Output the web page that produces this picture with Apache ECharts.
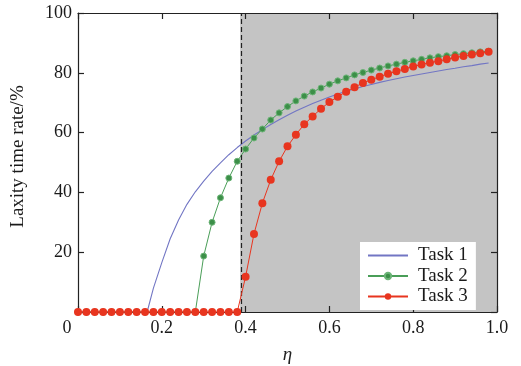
<!DOCTYPE html>
<html>
<head>
    <meta charset="UTF-8">
    <title>Laxity time rate</title>
    <script type="text/javascript" src="https://cdn.jsdelivr.net/npm/echarts@6/dist/echarts.min.js"></script>
</head>
<body style="margin:0;background:#fff;">
    <div id="chart" style="width:521px;height:366px;"></div>
    <script>
        // eta values, one point every 0.02
        var eta = [0, 0.02, 0.04, 0.06, 0.08, 0.10, 0.12, 0.14, 0.16, 0.18,
                   0.20, 0.22, 0.24, 0.26, 0.28, 0.30, 0.32, 0.34, 0.36, 0.38,
                   0.40, 0.42, 0.44, 0.46, 0.48, 0.50, 0.52, 0.54, 0.56, 0.58,
                   0.60, 0.62, 0.64, 0.66, 0.68, 0.70, 0.72, 0.74, 0.76, 0.78,
                   0.80, 0.82, 0.84, 0.86, 0.88, 0.90, 0.92, 0.94, 0.96, 0.98];

        // Task 1 is a plain line, starts rising at ~0.165
        var task1Eta = [0, 0.165, 0.18, 0.20, 0.22, 0.24, 0.26, 0.28, 0.30, 0.32,
                        0.34, 0.36, 0.38, 0.40, 0.42, 0.44, 0.46, 0.48, 0.50, 0.52,
                        0.54, 0.56, 0.58, 0.60, 0.62, 0.64, 0.66, 0.68, 0.70, 0.72,
                        0.74, 0.76, 0.78, 0.80, 0.82, 0.84, 0.86, 0.88, 0.90, 0.92,
                        0.94, 0.96, 0.98];
        var task1 = [0, 0, 8.0, 16.5, 24.5, 30.8, 36.0, 40.2, 43.8, 47.0,
                     49.9, 52.6, 55.0, 57.2, 59.2, 61.0, 62.7, 64.3, 65.8, 67.2,
                     68.5, 69.7, 70.8, 71.9, 72.9, 73.8, 74.6, 75.4, 76.1, 76.8,
                     77.4, 78.0, 78.6, 79.1, 79.6, 80.1, 80.6, 81.1, 81.5, 82.0,
                     82.4, 82.9, 83.3];

        var task2 = [0, 0, 0, 0, 0, 0, 0, 0, 0, 0,
                     0, 0, 0, 0, 0, 18.7, 30.0, 38.2, 44.8, 50.4,
                     54.5, 58.2, 61.2, 64.2, 66.6, 68.7, 70.6, 72.2, 73.6, 74.9,
                     76.2, 77.3, 78.3, 79.3, 80.1, 80.9, 81.6, 82.3, 82.9, 83.5,
                     84.0, 84.5, 85.0, 85.4, 85.7, 86.1, 86.4, 86.7, 87.0, 87.2];

        var task3 = [0, 0, 0, 0, 0, 0, 0, 0, 0, 0,
                     0, 0, 0, 0, 0, 0, 0, 0, 0, 0,
                     11.8, 26.1, 36.4, 44.2, 50.4, 55.4, 59.3, 62.8, 65.4, 68.0,
                     70.2, 72.0, 73.7, 75.2, 76.6, 77.7, 78.7, 79.7, 80.5, 81.3,
                     82.1, 82.8, 83.4, 83.9, 84.5, 85.1, 85.6, 86.1, 86.5, 87.0];

        var seriesNames = ['Task 1', 'Task 2', 'Task 3'];
        var threshold = 0.387;   // dashed line, shaded to the right
        var xTicks = {min: 0, max: 1, interval: 0.2};
        var yTicks = {min: 0, max: 100, interval: 20};

        function pairs(xs, ys) {
            return xs.map(function (x, i) { return [x, ys[i]]; });
        }

        var font = 'Liberation Serif';
        function frame() {
            return {show: true, onZero: false, lineStyle: {color: '#222', width: 1.2}};
        }
        function ticks() {
            return {show: true, inside: true, length: 6, lineStyle: {color: '#222', width: 1.2}};
        }
        var chart = echarts.init(document.getElementById('chart'), null, {renderer: 'canvas'});

        var option = {
            animation: false,
            grid: {left: 78, right: 24, top: 13, bottom: 54, containLabel: false, outerBoundsMode: 'none'},
            legend: {
                data: [{name: seriesNames[0], itemStyle: {opacity: 0}}, seriesNames[1], seriesNames[2]],
                orient: 'vertical',
                left: 360,
                top: 242,
                padding: [4, 8, 4, 7],
                itemGap: 1.5,
                itemWidth: 40,
                itemHeight: 8,
                backgroundColor: '#ffffff',
                textStyle: {fontFamily: font, fontSize: 19, lineHeight: 18, color: '#1a1a1a', padding: [0, 0, 0, 5]}
            },
            xAxis: [{
                type: 'value',
                z: 2,
                min: xTicks.min, max: xTicks.max, interval: xTicks.interval,
                name: 'η',
                nameLocation: 'middle',
                nameGap: 33,
                nameTextStyle: {fontFamily: font, fontSize: 19, fontStyle: 'italic', color: '#222'},
                axisLine: frame(),
                axisTick: ticks(),
                splitLine: {show: false},
                axisLabel: {
                    fontFamily: font, fontSize: 18, color: '#1a1a1a', margin: 7,
                    formatter: function (v) {
                        if (v === 0) return '{z|0}';
                        return v.toFixed(1);
                    },
                    rich: {z: {fontFamily: font, fontSize: 18, color: '#1a1a1a', padding: [0, 22, 0, 0]}}
                }
            }, {
                type: 'value', position: 'top',
                z: 2,
                min: xTicks.min, max: xTicks.max, interval: xTicks.interval,
                axisLine: frame(),
                axisTick: ticks(),
                axisLabel: {show: false},
                splitLine: {show: false}
            }],
            yAxis: [{
                type: 'value',
                z: 2,
                min: yTicks.min, max: yTicks.max, interval: yTicks.interval,
                name: 'Laxity time rate/%',
                nameLocation: 'middle',
                nameGap: 50,
                nameTextStyle: {fontFamily: font, fontSize: 19, color: '#1a1a1a', padding: [0, 0, 0, 12]},
                axisLine: frame(),
                axisTick: ticks(),
                splitLine: {show: false},
                axisLabel: {
                    fontFamily: font, fontSize: 18, color: '#1a1a1a', margin: 6,
                    formatter: function (v) { return v === 0 ? '' : String(v); }
                }
            }, {
                type: 'value', position: 'right',
                z: 2,
                min: yTicks.min, max: yTicks.max, interval: yTicks.interval,
                axisLine: frame(),
                axisTick: ticks(),
                axisLabel: {show: false},
                splitLine: {show: false}
            }],
            series: [
                {
                    // shaded region and dashed divider
                    name: 'region',
                    type: 'line',
                    data: [],
                    z: 1,
                    silent: true,
                    markArea: {
                        silent: true,
                        itemStyle: {color: '#c4c4c4', opacity: 1},
                        data: [[{xAxis: threshold}, {xAxis: xTicks.max}]]
                    },
                    markLine: {
                        silent: true,
                        symbol: ['none', 'none'],
                        label: {show: false},
                        lineStyle: {color: '#222', width: 1.2, type: [5, 3]},
                        data: [{xAxis: threshold}]
                    }
                },
                {
                    name: seriesNames[0],
                    type: 'line',
                    z: 3,
                    data: pairs(task1Eta, task1),
                    symbol: 'none',
                    color: '#7276c4',
                    lineStyle: {width: 1.1, color: '#7276c4'}
                },
                {
                    name: seriesNames[1],
                    type: 'line',
                    z: 4,
                    data: pairs(eta, task2),
                    symbol: 'circle',
                    symbolSize: 6,
                    color: '#3c8f48',
                    itemStyle: {color: '#3c8f48', borderColor: '#6cb477', borderWidth: 1},
                    lineStyle: {width: 1, color: '#4a9e58'}
                },
                {
                    name: seriesNames[2],
                    type: 'line',
                    z: 5,
                    data: pairs(eta, task3),
                    symbol: 'circle',
                    symbolSize: 8,
                    color: '#e8351f',
                    itemStyle: {color: '#e8351f'},
                    lineStyle: {width: 1, color: '#e8351f'}
                }
            ]
        };
        chart.setOption(option);
    </script>
</body>
</html>
